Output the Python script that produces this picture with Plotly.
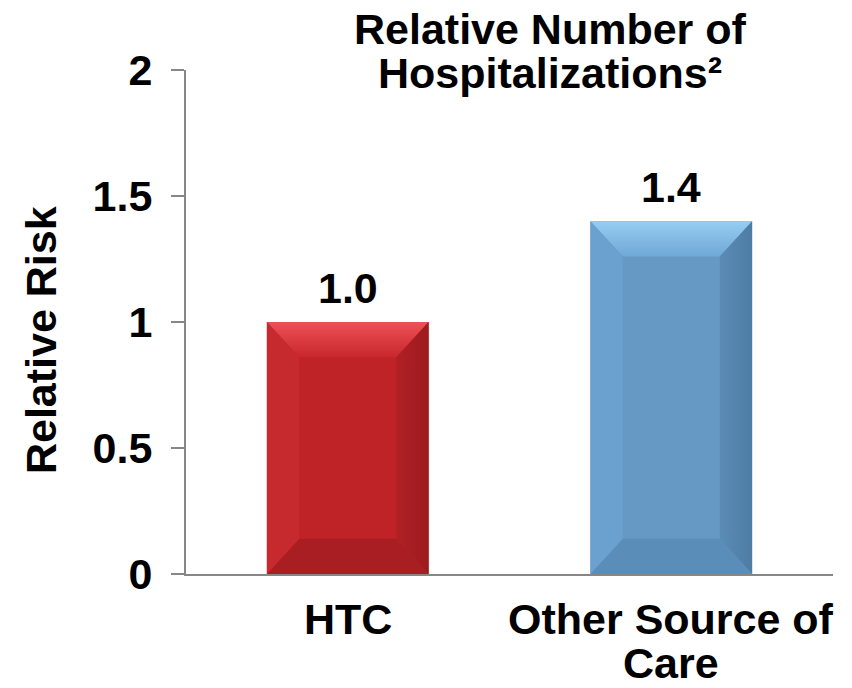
import plotly.graph_objects as go

# Data
categories = ["HTC", "Other Source of<br>Care"]
relative_risk = [1.0, 1.4]
y_ticks = [0, 0.5, 1, 1.5, 2]
y_tick_labels = ["0", "0.5", "1", "1.5", "2"]

# Bar palettes: body, top bevel (bottom->top), left, right (inner->outer), bottom
palettes = [
    dict(body="#BF2328", top=["#C8282D", "#EE5055"], left="#C62A2F",
         right=["#B02024", "#9C1B1E"], bottom="#A91E22"),
    dict(body="#6699C4", top=["#70A8D6", "#96CDF3"], left="#6BA1CF",
         right=["#5A8CB6", "#4E7CA3"], bottom="#5A8DB8"),
]

FONT = "Liberation Sans, Arial, Helvetica, sans-serif"
FS = 43
LINE_H = 44        # line pitch for wrapped category labels (px)
AXIS_GREY = "#878787"
BAR_W = 0.5        # bar width in category units
BEVEL_X = 0.10     # bevel depth along x (category units)
BEVEL_Y = 0.14     # bevel depth along y (value units)

x_pos = list(range(len(categories)))


def bold(size=FS):
    return dict(family=FONT, size=size, color="black", weight="bold")


fig = go.Figure()
fig.add_trace(go.Bar(
    x=x_pos, y=relative_risk, width=BAR_W,
    marker=dict(color=[p["body"] for p in palettes], line=dict(width=0)),
    hoverinfo="skip", showlegend=False,
))


def bevel(xs, ys, fill, direction=None):
    kw = dict(x=xs + [xs[0]], y=ys + [ys[0]], mode="lines", fill="toself",
              line=dict(width=0), hoverinfo="skip", showlegend=False)
    if isinstance(fill, list):
        kw["fillgradient"] = dict(type=direction,
                                  colorscale=[[0, fill[0]], [1, fill[1]]])
        kw["fillcolor"] = fill[0]
    else:
        kw["fillcolor"] = fill
    fig.add_trace(go.Scatter(**kw))


for xi, v, p in zip(x_pos, relative_risk, palettes):
    xl, xr = xi - BAR_W / 2, xi + BAR_W / 2
    # top face
    bevel([xl, xr, xr - BEVEL_X, xl + BEVEL_X], [v, v, v - BEVEL_Y, v - BEVEL_Y],
          p["top"], "vertical")
    # bottom face
    bevel([xl, xr, xr - BEVEL_X, xl + BEVEL_X], [0, 0, BEVEL_Y, BEVEL_Y],
          p["bottom"])
    # left face
    bevel([xl, xl, xl + BEVEL_X, xl + BEVEL_X], [0, v, v - BEVEL_Y, BEVEL_Y],
          p["left"])
    # right face (darker toward the outer edge)
    bevel([xr - BEVEL_X, xr - BEVEL_X, xr, xr], [BEVEL_Y, v - BEVEL_Y, v, 0],
          p["right"], "horizontal")

# value labels above bars
for xi, v in zip(x_pos, relative_risk):
    fig.add_annotation(x=xi, y=v, xref="x", yref="y", text=f"{v:.1f}",
                       showarrow=False, yanchor="bottom", yshift=8,
                       font=bold())

# category labels under the axis, one annotation per wrapped line
for xi, cat in zip(x_pos, categories):
    for k, line in enumerate(cat.split("<br>")):
        fig.add_annotation(x=xi, y=0, xref="x", yref="paper", text=line,
                           showarrow=False, xanchor="center", yanchor="top",
                           borderpad=0, yshift=-20 - k * LINE_H, font=bold())

# chart title, two lines
fig.add_annotation(x=0.5626, y=1.131, xref="paper", yref="paper",
                   text="Relative Number of", showarrow=False, borderpad=0,
                   xanchor="center", yanchor="top", font=bold())
fig.add_annotation(x=0.5626, y=1.043, xref="paper", yref="paper",
                   text="Hospitalizations²", showarrow=False, borderpad=0,
                   xanchor="center", yanchor="top", font=bold())

# y-axis title
fig.add_annotation(x=-0.225, y=0.465, xref="paper", yref="paper",
                   text="Relative Risk", showarrow=False, textangle=-90,
                   xanchor="center", yanchor="middle", font=bold())

fig.update_layout(
    width=852, height=688,
    margin=dict(l=186, r=19, t=70, b=114, autoexpand=False),
    paper_bgcolor="white", plot_bgcolor="white",
    showlegend=False,
    font=bold(),
)
fig.update_xaxes(
    range=[-0.5, len(categories) - 0.5],
    tickvals=x_pos, showticklabels=False,
    showgrid=False, zeroline=False, automargin=False,
    showline=True, linecolor=AXIS_GREY, linewidth=2,
    ticks="",
)
fig.update_yaxes(
    range=[0, 2], tickvals=y_ticks, ticktext=y_tick_labels,
    showgrid=False, zeroline=False, automargin=False,
    showline=True, linecolor=AXIS_GREY, linewidth=2,
    ticks="outside", ticklen=13, tickwidth=2, tickcolor=AXIS_GREY,
    ticklabelstandoff=10,
    tickfont=bold(),
)

fig.write_html("out.html")
